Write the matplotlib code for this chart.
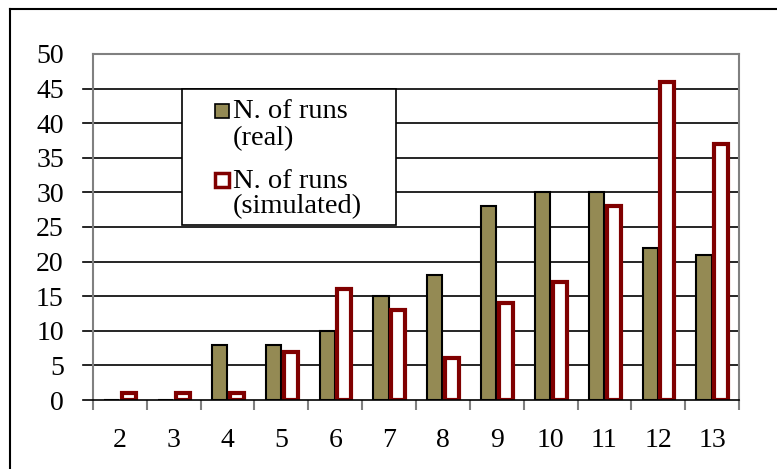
import matplotlib.pyplot as plt
import numpy as np
from matplotlib.lines import Line2D
from matplotlib.patches import Rectangle

categories = ['2', '3', '4', '5', '6', '7', '8', '9', '10', '11', '12', '13']
real = [0, 0, 8, 8, 10, 15, 18, 28, 30, 30, 22, 21]
simulated = [1, 1, 1, 7, 16, 13, 6, 14, 17, 28, 46, 37]

W, H = 777, 469
fig = plt.figure(figsize=(W / 100, H / 100), dpi=100)
ax = fig.add_axes([93 / W, 1 - 400 / H, (739 - 93) / W, (400 - 54) / H])

x = np.arange(len(categories))
bw = 0.3
ax.bar(x - bw / 2, real, bw - 0.02, color='#948A54', edgecolor='black', linewidth=1.5, zorder=3)
ax.bar(x + bw / 2 + 0.02, simulated, bw - 0.04, color='white', edgecolor='#800000', linewidth=3, zorder=3)

ax.set_xlim(-0.5, len(categories) - 0.5)
ax.set_ylim(0, 50)
ax.set_yticks(range(0, 51, 5))
for yv in range(5, 50, 5):
    ax.axhline(yv, color='black', linewidth=1.2, zorder=1, xmin=-0.016, clip_on=False)
ax.axhline(0, color='black', linewidth=1.2, zorder=4, xmin=-0.016, clip_on=False)

ax.set_xticks(x)
ax.set_xticklabels(categories, fontsize=20, family='Liberation Serif')
ax.tick_params(axis='x', length=0, pad=20)
ax.set_xticks(np.arange(-0.5, len(categories), 1), minor=True)
ax.tick_params(axis='x', which='minor', length=7, color='grey', width=1.5)
ax.set_yticklabels([str(v) for v in range(0, 51, 5)], fontsize=20, family='Liberation Serif')
ax.tick_params(axis='y', length=0, pad=21)

for s in ax.spines.values():
    s.set_color('grey')
    s.set_linewidth(1.5)
ax.spines['bottom'].set_visible(False)

# legend box, drawn by hand to match the two-line entries
def fx(px):
    return px / W

def fy(py):
    return 1 - py / H

fig.add_artist(Rectangle((fx(182), fy(225)), fx(396) - fx(182), fy(89) - fy(225),
                         facecolor='white', edgecolor='black', linewidth=1.2, zorder=5))
tfont = dict(family='Liberation Serif', fontsize=20.5, va='center', ha='left', zorder=6)
fig.add_artist(Line2D([fx(222)], [fy(111)], marker='s', markersize=10, markerfacecolor='#948A54',
                      markeredgecolor='black', markeredgewidth=1.2, zorder=6))
fig.add_artist(Line2D([fx(222)], [fy(180)], marker='s', markersize=10, markerfacecolor='white',
                      markeredgecolor='#800000', markeredgewidth=2.5, zorder=6))
fig.text(fx(233), fy(112), 'N. of runs', **tfont)
fig.text(fx(233), fy(139), '(real)', **tfont)
fig.text(fx(233), fy(181), 'N. of runs', **tfont)
fig.text(fx(233), fy(207), '(simulated)', **tfont)

# outer chart frame
fig.add_artist(Line2D([10 / W, 1], [1 - 9 / H, 1 - 9 / H], color='black', linewidth=1.5))
fig.add_artist(Line2D([10 / W, 10 / W], [0, 1 - 9 / H], color='black', linewidth=1.5))

fig.savefig('out.png', dpi=100)
